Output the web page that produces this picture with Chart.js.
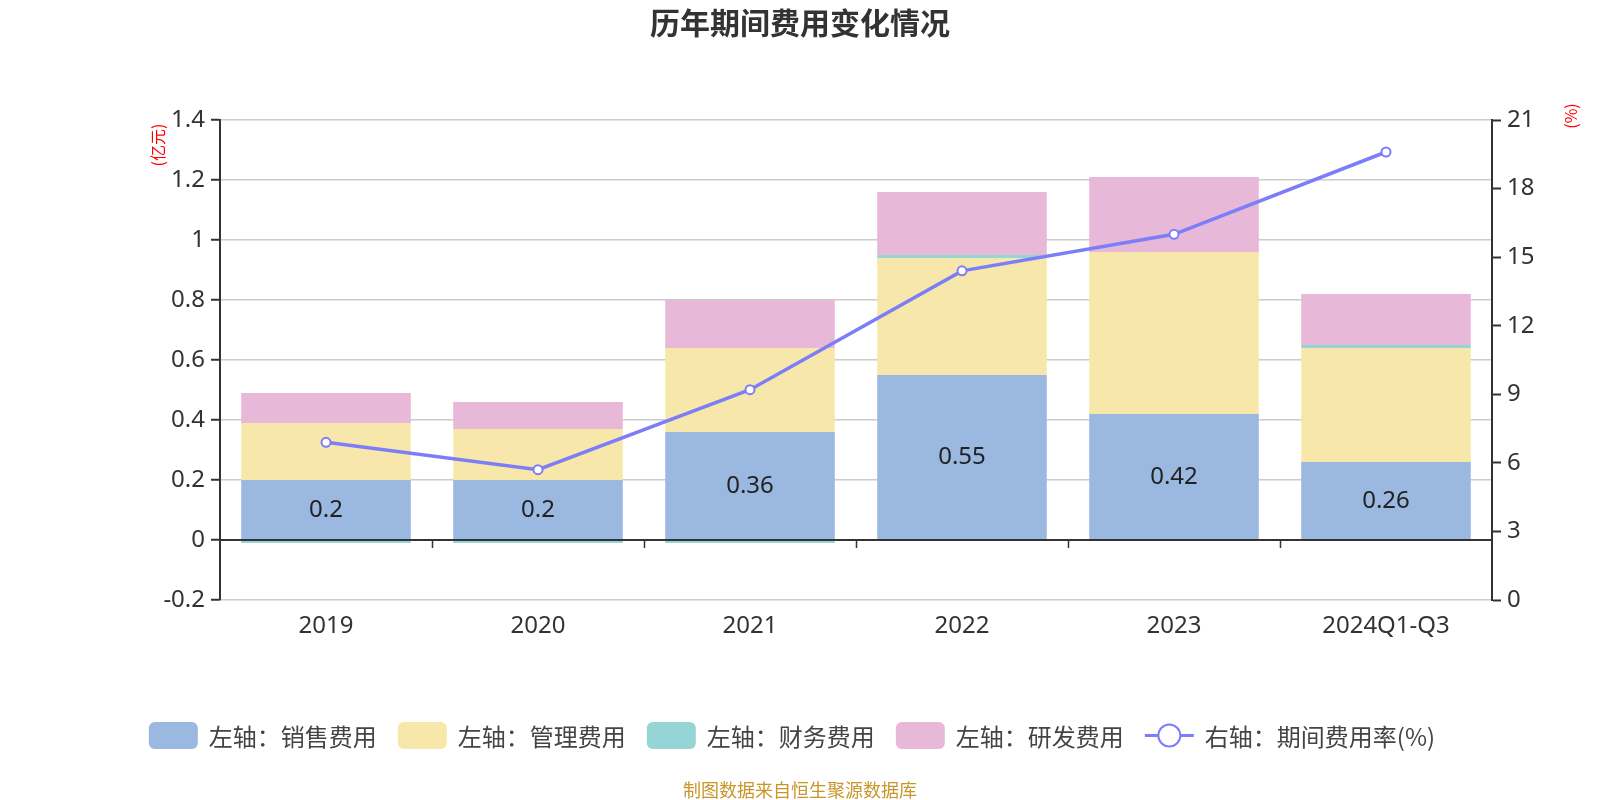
<!DOCTYPE html>
<html>
<head>
<meta charset="utf-8">
<script src="https://cdn.jsdelivr.net/npm/chart.js@4/dist/chart.umd.min.js"></script>
<style>
  html, body { margin: 0; padding: 0; background: #fff; }
  canvas { display: block; }
</style>
</head>
<body>
<canvas id="costChart" width="1600" height="800"></canvas>
<script>
const categories = ['2019', '2020', '2021', '2022', '2023', '2024Q1-Q3'];
const salesExp = [0.2, 0.2, 0.36, 0.55, 0.42, 0.26];
const adminExp = [0.19, 0.17, 0.28, 0.39, 0.54, 0.38];
const financeExp = [-0.01, -0.01, -0.01, 0.01, 0.0, 0.01];
const rdExp = [0.10, 0.09, 0.16, 0.21, 0.25, 0.17];
const expenseRate = [6.9, 5.7, 9.2, 14.4, 16.0, 19.6];

const leftTicks = { min: -0.2, max: 1.4, step: 0.2 };
const rightTicks = { min: 0, max: 21, step: 3 };

const FONT = '"Noto Sans", "Noto Sans CJK SC", sans-serif';
const CJK = '"Noto Sans CJK SC", "Noto Sans", sans-serif';
const lineColor = '#7b7ef6';

const legendItems = [
    { text: '左轴：销售费用', color: '#9bb8e1', type: 'box' },
    { text: '左轴：管理费用', color: '#f8e7aa', type: 'box' },
    { text: '左轴：财务费用', color: '#96d5d5', type: 'box' },
    { text: '左轴：研发费用', color: '#e7b8d8', type: 'box' },
    { text: '右轴：期间费用率(%)', color: lineColor, type: 'line' }
];

function roundRect(c, x, y, w, h, r) {
    c.beginPath();
    c.moveTo(x + r, y);
    c.arcTo(x + w, y, x + w, y + h, r);
    c.arcTo(x + w, y + h, x, y + h, r);
    c.arcTo(x, y + h, x, y, r);
    c.arcTo(x, y, x + w, y, r);
    c.closePath();
}

// title, units, legend, footer, value labels, zero axis ticks
const decor = {
    id: 'decor',
    afterDatasetsDraw(chart) {
        const c = chart.ctx;
        const xs = chart.scales.x, ys = chart.scales.y;
        const y0 = ys.getPixelForValue(0);
        c.save();
        // zero axis line + category boundary ticks
        c.strokeStyle = '#333';
        c.lineWidth = 2;
        c.beginPath();
        c.moveTo(chart.chartArea.left, y0);
        c.lineTo(chart.chartArea.right, y0);
        c.stroke();
        c.lineWidth = 1.5;
        for (let i = 1; i < categories.length; i++) {
            const bx = Math.round((xs.getPixelForValue(i - 1) + xs.getPixelForValue(i)) / 2) + 0.5;
            c.beginPath();
            c.moveTo(bx, y0);
            c.lineTo(bx, y0 + 8);
            c.stroke();
        }
        // labels on sales bars
        const meta = chart.getDatasetMeta(1);
        c.fillStyle = '#222';
        c.font = '24px ' + FONT;
        c.textAlign = 'center';
        c.textBaseline = 'middle';
        meta.data.forEach((bar, i) => {
            const p = bar.getProps(['x', 'y', 'base'], true);
            c.fillText(String(salesExp[i]), p.x, (p.y + p.base) / 2);
        });
        c.restore();
    },
    afterDraw(chart) {
        const c = chart.ctx;
        c.save();
        // title
        c.fillStyle = '#333';
        c.font = 'bold 30px ' + CJK;
        c.textAlign = 'center';
        c.textBaseline = 'middle';
        c.fillText('历年期间费用变化情况', 800, 23);

        // units
        c.fillStyle = '#ff0000';
        c.font = '16px ' + CJK;
        c.save();
        c.translate(158, 145);
        c.rotate(-Math.PI / 2);
        c.fillText('(亿元)', 0, 0);
        c.restore();
        c.save();
        c.translate(1571, 116);
        c.rotate(-Math.PI / 2);
        c.fillText('(%)', 0, 0);
        c.restore();

        // legend
        c.font = '24px ' + CJK;
        c.textAlign = 'left';
        const boxW = 49, boxH = 27, gap = 11, itemGap = 21;
        let total = 0;
        const widths = legendItems.map(it => c.measureText(it.text).width);
        widths.forEach(w => { total += boxW + gap + w; });
        total += itemGap * (legendItems.length - 1);
        let x = 792 - total / 2;
        const ly = 735.5;
        legendItems.forEach((it, i) => {
            if (it.type === 'box') {
                c.fillStyle = it.color;
                roundRect(c, x, ly - boxH / 2, boxW, boxH, 6);
                c.fill();
            } else {
                c.strokeStyle = it.color;
                c.lineWidth = 3;
                c.beginPath();
                c.moveTo(x, ly);
                c.lineTo(x + boxW, ly);
                c.stroke();
                c.fillStyle = '#fff';
                c.lineWidth = 2;
                c.beginPath();
                c.arc(x + boxW / 2, ly, 11, 0, Math.PI * 2);
                c.fill();
                c.stroke();
            }
            c.fillStyle = '#444';
            c.fillText(it.text, x + boxW + gap, ly + 1);
            x += boxW + gap + widths[i] + itemGap;
        });

        // footer
        c.fillStyle = '#c8962a';
        c.font = '18px ' + CJK;
        c.textAlign = 'center';
        c.fillText('制图数据来自恒生聚源数据库', 800, 790);
        c.restore();
    }
};

const fmt = v => String(+Number(v).toFixed(1));

new Chart(document.getElementById('costChart').getContext('2d'), {
    type: 'bar',
    data: {
        labels: categories,
        datasets: [
            { type: 'line', label: '右轴：期间费用率(%)', data: expenseRate, yAxisID: 'y2',
              borderColor: lineColor, borderWidth: 3.5, backgroundColor: '#fff',
              pointRadius: 4.5, pointBorderWidth: 2, pointBackgroundColor: '#fff',
              pointBorderColor: lineColor, tension: 0, order: 0 },
            { label: '左轴：销售费用', data: salesExp, backgroundColor: '#9bb8e1', stack: 'c', order: 1 },
            { label: '左轴：管理费用', data: adminExp, backgroundColor: '#f8e7aa', stack: 'c', order: 1 },
            { label: '左轴：财务费用', data: financeExp, backgroundColor: '#96d5d5', stack: 'c', order: 1 },
            { label: '左轴：研发费用', data: rdExp, backgroundColor: '#e7b8d8', stack: 'c', order: 1 }
        ]
    },
    options: {
        responsive: false,
        animation: false,
        layout: { padding: { top: 120, bottom: 0, left: 0, right: 0 } },
        datasets: { bar: { categoryPercentage: 0.8, barPercentage: 1, borderWidth: 0 } },
        plugins: { legend: { display: false }, title: { display: false }, tooltip: { enabled: false } },
        scales: {
            x: {
                stacked: true,
                grid: { display: false },
                border: { display: false },
                ticks: { color: '#333', font: { family: FONT, size: 24 }, padding: 4, maxRotation: 0 },
                afterFit(s) { s.height = 200; }
            },
            y: {
                stacked: true,
                position: 'left',
                min: leftTicks.min, max: leftTicks.max,
                ticks: { stepSize: leftTicks.step, color: '#333', font: { family: FONT, size: 24 }, padding: 6, callback: fmt },
                grid: {
                    color: ctx => (ctx.tick && ctx.tick.value === 0) ? 'rgba(0,0,0,0)' : '#cccccc',
                    lineWidth: 1.5, tickLength: 9, tickColor: '#333', tickWidth: 2
                },
                border: { color: '#333', width: 2 },
                afterFit(s) { s.width = 220; }
            },
            y2: {
                position: 'right',
                min: rightTicks.min, max: rightTicks.max,
                ticks: { stepSize: rightTicks.step, color: '#333', font: { family: FONT, size: 24 }, padding: 6 },
                grid: { drawOnChartArea: false, tickLength: 9, tickColor: '#333', tickWidth: 2 },
                border: { color: '#333', width: 2 },
                afterFit(s) { s.width = 108; }
            }
        }
    },
    plugins: [decor]
});
</script>
</body>
</html>
